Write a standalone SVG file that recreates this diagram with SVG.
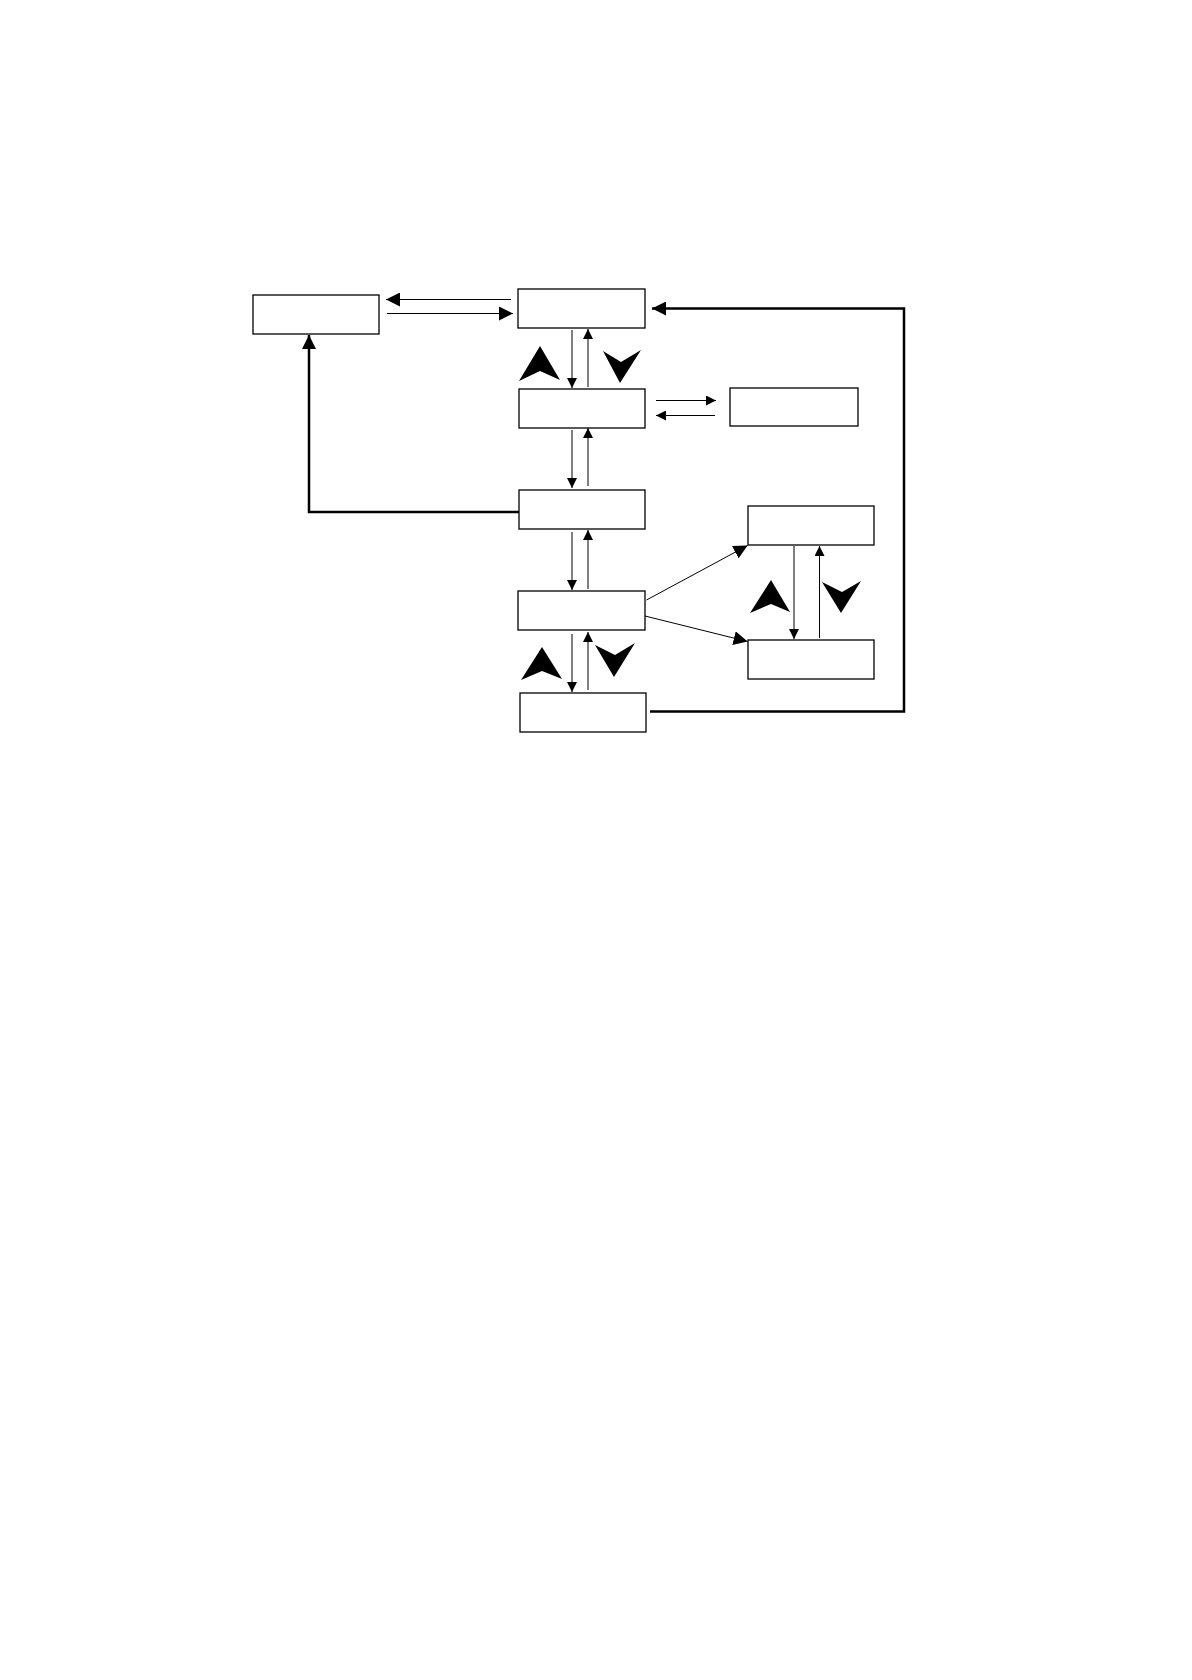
<svg xmlns="http://www.w3.org/2000/svg" width="1192" height="1680" viewBox="0 0 1192 1680">
<style>
.box{fill:#fff;stroke:#000;stroke-width:1.3}
.thin{stroke:#000;stroke-width:1;fill:none}
.thick{stroke:#000;stroke-width:2.5;fill:none}
.glyph{fill:#000}
</style>
<defs>
<marker id="a" viewBox="0 0 10 10" refX="10" refY="5" markerWidth="10" markerHeight="10" markerUnits="userSpaceOnUse" orient="auto"><path d="M0,0L10,5L0,10z"/></marker>
<marker id="b" viewBox="0 0 10 10" refX="10" refY="5" markerWidth="14" markerHeight="14" markerUnits="userSpaceOnUse" orient="auto"><path d="M0,0L10,5L0,10z"/></marker>
</defs>
<rect width="1192" height="1680" fill="#fff"/>
<g id="nA"><rect class="box" x="253" y="295" width="126" height="39"/></g>
<g id="nB"><rect class="box" x="518" y="289" width="127" height="39"/></g>
<g id="nC"><rect class="box" x="519" y="389" width="126" height="39"/></g>
<g id="nD"><rect class="box" x="730" y="388" width="128" height="38"/></g>
<g id="nE"><rect class="box" x="519" y="490" width="126" height="39"/></g>
<g id="nF"><rect class="box" x="748" y="506" width="126" height="39"/></g>
<g id="nG"><rect class="box" x="518" y="591" width="127" height="39"/></g>
<g id="nH"><rect class="box" x="748" y="640" width="126" height="39"/></g>
<g id="nI"><rect class="box" x="520" y="693" width="126" height="39"/></g>
<g id="connectors">
<line class="thin" x1="511" y1="299.5" x2="386" y2="299.5" marker-end="url(#b)"/>
<line class="thin" x1="387" y1="313.5" x2="513" y2="313.5" marker-end="url(#b)"/>
<polyline class="thick" points="650,711.5 904,711.5 904,308.5 652,308.5" marker-end="url(#b)"/>
<polyline class="thick" points="519,512 309,512 309,335" marker-end="url(#b)"/>
<line class="thin" x1="572" y1="330" x2="572" y2="388" marker-end="url(#a)"/>
<line class="thin" x1="588" y1="387" x2="588" y2="329" marker-end="url(#a)"/>
<line class="thin" x1="656" y1="400.5" x2="716" y2="400.5" marker-end="url(#a)"/>
<line class="thin" x1="715" y1="415.5" x2="656" y2="415.5" marker-end="url(#a)"/>
<line class="thin" x1="572" y1="430" x2="572" y2="488" marker-end="url(#a)"/>
<line class="thin" x1="588" y1="486" x2="588" y2="428" marker-end="url(#a)"/>
<line class="thin" x1="572" y1="532" x2="572" y2="590" marker-end="url(#a)"/>
<line class="thin" x1="588" y1="589" x2="588" y2="530" marker-end="url(#a)"/>
<line class="thin" x1="646.5" y1="600" x2="747.6" y2="545.5" marker-end="url(#b)"/>
<line class="thin" x1="645" y1="616" x2="747.6" y2="641.5" marker-end="url(#b)"/>
<line class="thin" x1="794" y1="546" x2="794" y2="639" marker-end="url(#a)"/>
<line class="thin" x1="819.5" y1="638" x2="819.5" y2="546" marker-end="url(#a)"/>
<line class="thin" x1="572" y1="634" x2="572" y2="692" marker-end="url(#a)"/>
<line class="thin" x1="588" y1="690" x2="588" y2="632" marker-end="url(#a)"/>
</g>
<g id="glyphs" class="glyph">
<polygon points="519,381 540,346 560,380 540,371"/>
<polygon points="603,351 621,362 641,350 620,383"/>
<polygon points="750,613 771,580 790,612 771,604"/>
<polygon points="822,582 842,592 861,581 841,613"/>
<polygon points="521,680 542,647 562,679 542,671"/>
<polygon points="595,645 615,655 635,643 614,677"/>
</g>
</svg>
